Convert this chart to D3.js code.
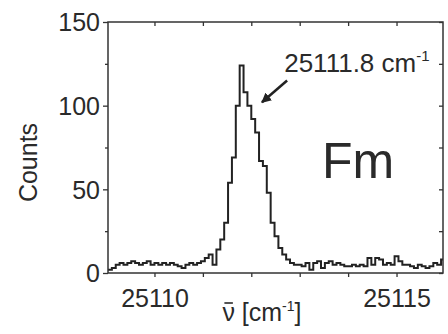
<!DOCTYPE html>
<html>
<head>
<meta charset="UTF-8">
<title>Fm spectrum</title>
<script src="https://cdn.jsdelivr.net/npm/d3@7"></script>
<style>
  body { margin: 0; background: #fff; }
  svg { display: block; font-family: "Liberation Sans", Arial, sans-serif; }
  .axis path { display: none; }
  .axis line { stroke: #333; stroke-width: 1.3px; }
  .axis text { fill: #2a2a2a; font-size: 25px; }
  .trace { fill: none; stroke: #222; stroke-width: 2px; }
</style>
</head>
<body>
<div id="chart"></div>
<script>
// histogram bins: first bin start (cm^-1) and width
var binStart = 25109.04;
var binWidth = 0.08;
var counts = [
  2, 3, 5, 6, 5, 6, 7, 6, 5, 6, 7, 5, 6, 5, 6, 5, 6, 5, 4, 3,
  5, 6, 5, 6, 7, 9, 11, 5, 14, 20, 30, 54, 69, 100, 124, 108, 100, 92, 84, 67,
  64, 48, 30, 22, 15, 11, 8, 6, 5, 5, 4, 6, 2, 6, 7, 3, 6, 7, 5, 6,
  5, 4, 4, 5, 4, 5, 4, 9, 5, 9, 8, 5, 6, 5, 10, 7, 5, 5, 4, 3,
  5, 4, 3, 4, 6, 5, 8
];
var xTicks = [25110, 25111, 25112, 25113, 25114, 25115];
var xLabels = [25110, 25115];
var yMajor = [0, 50, 100, 150];
var yMinor = [25, 75, 125];
var peakLabel = "25111.8";

var W = 448, H = 334;
var pl = 108, pr = 443, pt = 22, pb = 273;

var x = d3.scaleLinear().domain([25109.04, 25115.96]).range([pl, pr]);
var y = d3.scaleLinear().domain([0, 150]).range([pb, pt]);

var svg = d3.select("#chart").append("svg")
  .attr("width", W).attr("height", H);

var defs = svg.append("defs");

// trace
var pts = counts.map(function(c, i) { return [binStart + i * binWidth, c]; });
pts.push([binStart + counts.length * binWidth, counts[counts.length - 1]]);

var line = d3.line()
  .x(function(d) { return x(d[0]); })
  .y(function(d) { return y(d[1]); })
  .curve(d3.curveStepAfter);

defs.append("clipPath").attr("id", "clip")
  .append("rect").attr("x", pl).attr("y", pt).attr("width", pr - pl).attr("height", pb - pt);

svg.append("path")
  .datum(pts)
  .attr("class", "trace")
  .attr("clip-path", "url(#clip)")
  .attr("d", line);

// frame
svg.append("rect")
  .attr("x", pl).attr("y", pt)
  .attr("width", pr - pl).attr("height", pb - pt)
  .attr("fill", "none").attr("stroke", "#333").attr("stroke-width", 1.5);

// axes
svg.append("g").attr("class", "axis")
  .attr("transform", "translate(0," + pb + ")")
  .call(d3.axisBottom(x).tickValues(xTicks).tickSize(4).tickPadding(12)
    .tickFormat(function(d) { return xLabels.indexOf(d) >= 0 ? d : ""; }));

svg.append("g").attr("class", "axis")
  .attr("transform", "translate(0," + pt + ")")
  .call(d3.axisBottom(x).tickValues(xTicks).tickSize(4).tickFormat(""));

svg.append("g").attr("class", "axis")
  .attr("transform", "translate(" + pl + ",0)")
  .call(d3.axisLeft(y).tickValues(yMajor).tickSize(5).tickPadding(3))
  .selectAll("text").attr("dy", "0.35em");

svg.append("g").attr("class", "axis")
  .attr("transform", "translate(" + pl + ",0)")
  .call(d3.axisLeft(y).tickValues(yMinor).tickSize(3).tickFormat(""));

svg.append("g").attr("class", "axis")
  .attr("transform", "translate(" + pr + ",0)")
  .call(d3.axisLeft(y).tickValues(yMajor.concat(yMinor)).tickSize(4).tickFormat(""));

// axis titles
svg.append("text")
  .attr("transform", "translate(37," + ((pt + pb) / 2 + 15) + ") rotate(-90)")
  .attr("text-anchor", "middle")
  .attr("fill", "#2a2a2a")
  .style("font-size", "25px")
  .text("Counts");

var xt = svg.append("text")
  .attr("x", x(25112.22)).attr("y", 321)
  .attr("text-anchor", "middle")
  .attr("fill", "#2a2a2a")
  .style("font-size", "25px");
xt.append("tspan").text("\u03BD [cm");
xt.append("tspan").attr("dy", -10).style("font-size", "14px").text("-1");
xt.append("tspan").attr("dy", 10).text("]");

// bar over the nu
var nu = xt.node().getExtentOfChar(0);
svg.append("line")
  .attr("x1", nu.x + 2).attr("x2", nu.x + nu.width - 2)
  .attr("y1", 303).attr("y2", 303)
  .attr("stroke", "#2a2a2a").attr("stroke-width", 1.6);

// annotation
var at = svg.append("text")
  .attr("x", x(25112.68)).attr("y", y(120))
  .attr("fill", "#2a2a2a")
  .style("font-size", "26px");
at.append("tspan").text(peakLabel + " cm");
at.append("tspan").attr("dy", -11).style("font-size", "15px").text("-1");

defs.append("marker")
  .attr("id", "arr").attr("viewBox", "0 0 10 10")
  .attr("refX", 9).attr("refY", 5)
  .attr("markerWidth", 4).attr("markerHeight", 4)
  .attr("orient", "auto")
  .append("path").attr("d", "M0,0L10,5L0,10z").attr("fill", "#222");

svg.append("line")
  .attr("x1", x(25112.74)).attr("y1", y(115))
  .attr("x2", x(25112.22)).attr("y2", y(102))
  .attr("stroke", "#222").attr("stroke-width", 2.5)
  .attr("marker-end", "url(#arr)");

svg.append("text")
  .attr("x", 322).attr("y", 178)
  .attr("fill", "#2a2a2a")
  .style("font-size", "50px")
  .text("Fm");
</script>
</body>
</html>
